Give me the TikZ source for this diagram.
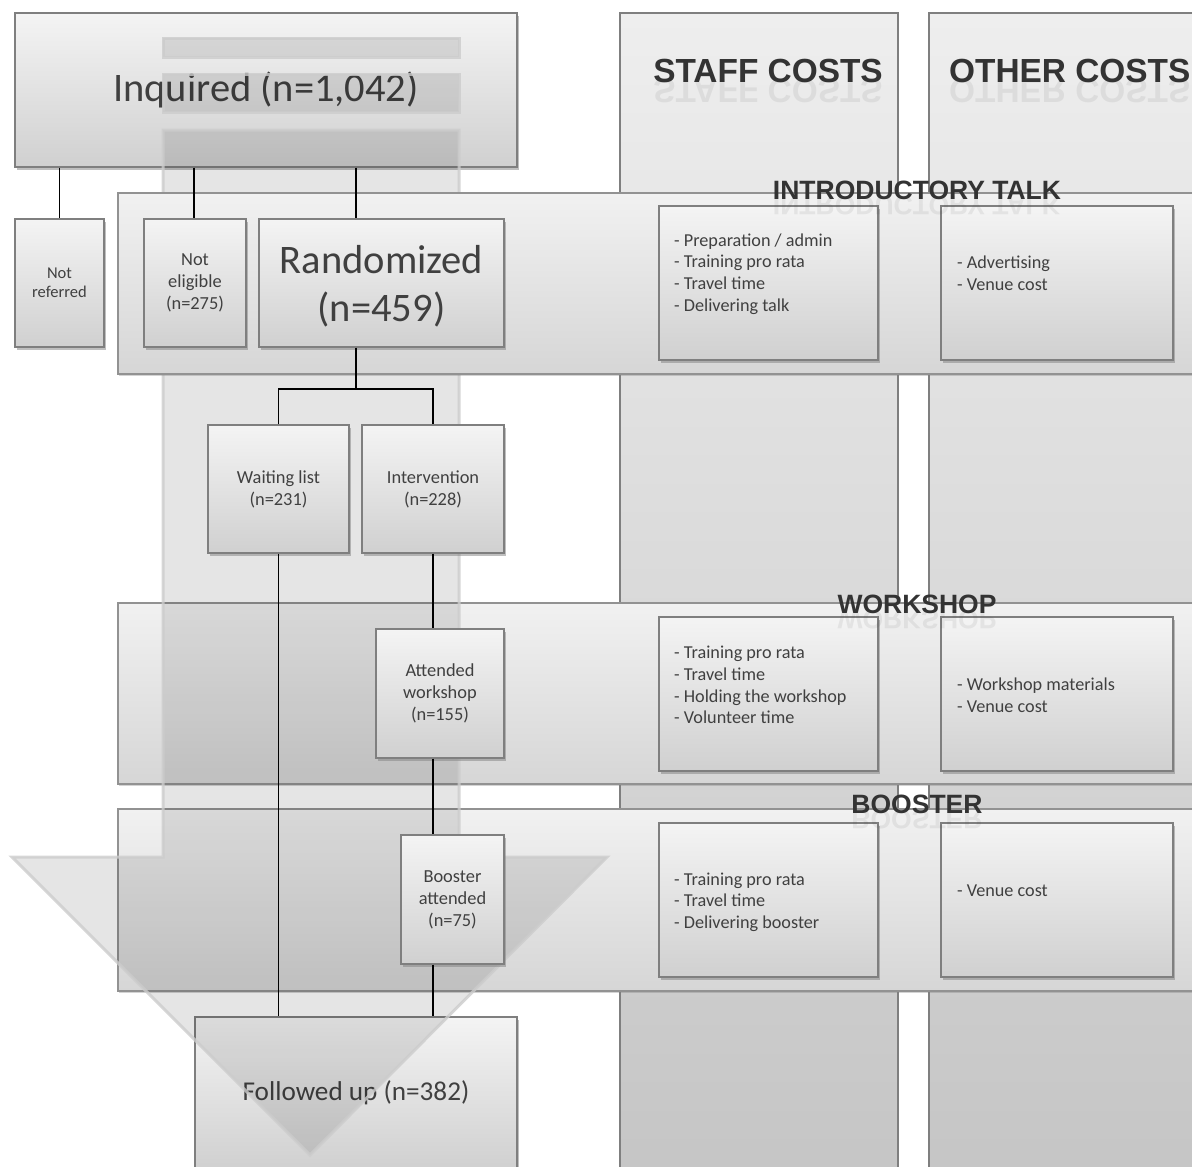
\documentclass[tikz,border=0pt]{standalone}
\usepackage{fontspec}
\setmainfont{Carlito}
\newfontfamily\hdfont{Liberation Sans}
\usetikzlibrary{shadows}
\definecolor{txt}{HTML}{404040}
\definecolor{bord}{HTML}{7F7F7F}
\definecolor{hdc}{HTML}{333333}
\definecolor{boxtop}{HTML}{F4F4F4}
\definecolor{boxbot}{HTML}{D0D0D0}
\definecolor{bandtop}{HTML}{F1F1F1}
\definecolor{bandbot}{HTML}{D6D6D6}
\definecolor{coltop}{HTML}{EEEEEE}
\definecolor{colbot}{HTML}{C4C4C4}
\tikzset{
  box/.style={draw=bord, line width=1.3pt, top color=boxtop, bottom color=boxbot,
    drop shadow={shadow xshift=1.5pt, shadow yshift=-2.5pt, opacity=0.5},
    text=txt, align=center, inner sep=0pt, font=\fontsize{18.4}{22}\selectfont},
  band/.style={draw=bord!85, line width=1.2pt, top color=bandtop, bottom color=bandbot,
    drop shadow={shadow xshift=1pt, shadow yshift=-2pt, opacity=0.35}},
  col/.style={draw=bord, line width=1.3pt, top color=coltop, bottom color=colbot},
  arrowshape/.style={fill=black, fill opacity=0.1, draw=black!20, draw opacity=0.8, line width=3pt, line join=miter},
  link/.style={line width=1.8pt, black},
  hd/.style={font=\hdfont\bfseries\fontsize{26.5}{30}\selectfont, text=hdc, inner sep=0pt, anchor=base},
  bighd/.style={font=\hdfont\bfseries\fontsize{33.4}{38}\selectfont, text=hdc, inner sep=0pt, anchor=base},
  costtxt/.style={font=\fontsize{18.2}{21.7}\selectfont, text=txt, align=left, anchor=west, inner sep=0pt},
}
\newcommand\hdrefl[4]{% style, name, position, text
  \node[#1] (#2) at (#3) {#4};
  \begin{scope}[shift={(#3)}, yscale=-1]
    \node[#1, transform shape, text opacity=0.08] (#2r) at (0,-3) {#4};
  \end{scope}}
\begin{document}
\begin{tikzpicture}[x=1pt,y=1pt]
\useasboundingbox (0,0) rectangle (1192,-1167);
\clip (0,0) rectangle (1192,-1167);
% cost columns
\path[col] (620,-13) rectangle (898,-1210);
\path[col] (929,-13) rectangle (1250,-1210);
% top box
\node[box, minimum width=502pt, minimum height=154pt, font=\fontsize{40.5}{48}\selectfont] (inq) at (266,-90) {\raisebox{-3pt}{Inquired (n=1,042)}};
% phase bands (lower)
\path[band] (118,-603) rectangle (1250,-784);
\path[band] (118,-809) rectangle (1250,-991);
% followed up
\node[box, minimum width=322pt, minimum height=152pt, font=\fontsize{27.2}{32}\selectfont] (follow) at (356,-1093) {\raisebox{-3pt}{Followed up (n=382)}};
% big translucent down arrow
\path[arrowshape] (163,-38) rectangle (459,-57);
\path[arrowshape] (163,-74) rectangle (459,-112);
\path[arrowshape] (163,-130) -- (459,-130) -- (459,-857) -- (607,-857) -- (310,-1155) -- (12,-857) -- (163,-857) -- cycle;
% introductory band
\path[band] (118,-193) rectangle (1250,-374);
% flow boxes
\node[box, minimum width=89pt, minimum height=128pt, font=\fontsize{16.5}{19}\selectfont] (notref) at (59.5,-283) {Not\\referred};
\node[box, minimum width=102pt, minimum height=128pt] (notelig) at (195,-283) {Not\\eligible\\(n=275)};
\node[box, minimum width=245pt, minimum height=128pt, font=\fontsize{40.5}{48}\selectfont] (rand) at (381.5,-283) {\rule{0pt}{34pt}Randomized\\(n=459)};
\node[box, minimum width=141pt, minimum height=128pt] (wait) at (278.5,-489) {Waiting list\\(n=231)};
\node[box, minimum width=142pt, minimum height=128pt] (interv) at (433,-489) {Intervention\\(n=228)};
\node[box, minimum width=128pt, minimum height=129pt] (attend) at (440,-693.5) {Attended\\workshop\\(n=155)};
\node[box, minimum width=103pt, minimum height=129pt] (booster) at (452.5,-899.5) {Booster\\attended\\(n=75)};
% cost boxes
\node[box, minimum width=219pt, minimum height=154pt] (s1) at (768.5,-283) {};
\node[box, minimum width=232pt, minimum height=154pt] (o1) at (1057,-283) {};
\node[box, minimum width=219pt, minimum height=154pt] (s2) at (768.5,-694) {};
\node[box, minimum width=232pt, minimum height=154pt] (o2) at (1057,-694) {};
\node[box, minimum width=219pt, minimum height=154pt] (s3) at (768.5,-900) {};
\node[box, minimum width=232pt, minimum height=154pt] (o3) at (1057,-900) {};
\node[costtxt] (s1t) at (674,-274) {- Preparation / admin\\- Training pro rata\\- Travel time\\- Delivering talk};
\node[costtxt] (o1t) at (957,-273.5) {- Advertising\\- Venue cost};
\node[costtxt] (s2t) at (674,-685) {- Training pro rata\\- Travel time\\- Holding the workshop\\- Volunteer time};
\node[costtxt] (o2t) at (957,-695.5) {- Workshop materials\\- Venue cost};
\node[costtxt] (s3t) at (674,-902) {- Training pro rata\\- Travel time\\- Delivering booster};
\node[costtxt] (o3t) at (957,-891) {- Venue cost};
% connectors
\coordinate (xne) at (194,0);
\coordinate (xra) at (356,0);
\draw[link] (notref.north |- inq.south) -- (notref.north);
\draw[link] (xne |- inq.south) -- (xne |- notelig.north);
\draw[link] (xra |- inq.south) -- (xra |- rand.north);
\coordinate (split) at (356,-389);
\draw[link] (split |- rand.south) -- (split);
\draw[link] (wait.north) |- (split) -| (interv.north);
\draw[link] (wait.south) -- (wait.south |- follow.north);
\draw[link] (interv.south) -- (interv.south |- attend.north);
\draw[link] (interv.south |- attend.south) -- (interv.south |- booster.north);
\draw[link] (interv.south |- booster.south) -- (interv.south |- follow.north);
% headings
\hdrefl{bighd}{hstaff}{768,-82}{STAFF COSTS}
\hdrefl{bighd, anchor=base west}{hother}{949,-82}{OTHER COSTS}
\hdrefl{hd}{hintro}{917,-199.5}{INTRODUCTORY TALK}
\hdrefl{hd}{hwork}{917,-613.5}{WORKSHOP}
\hdrefl{hd}{hboost}{917,-813.5}{BOOSTER}
\end{tikzpicture}
\end{document}
